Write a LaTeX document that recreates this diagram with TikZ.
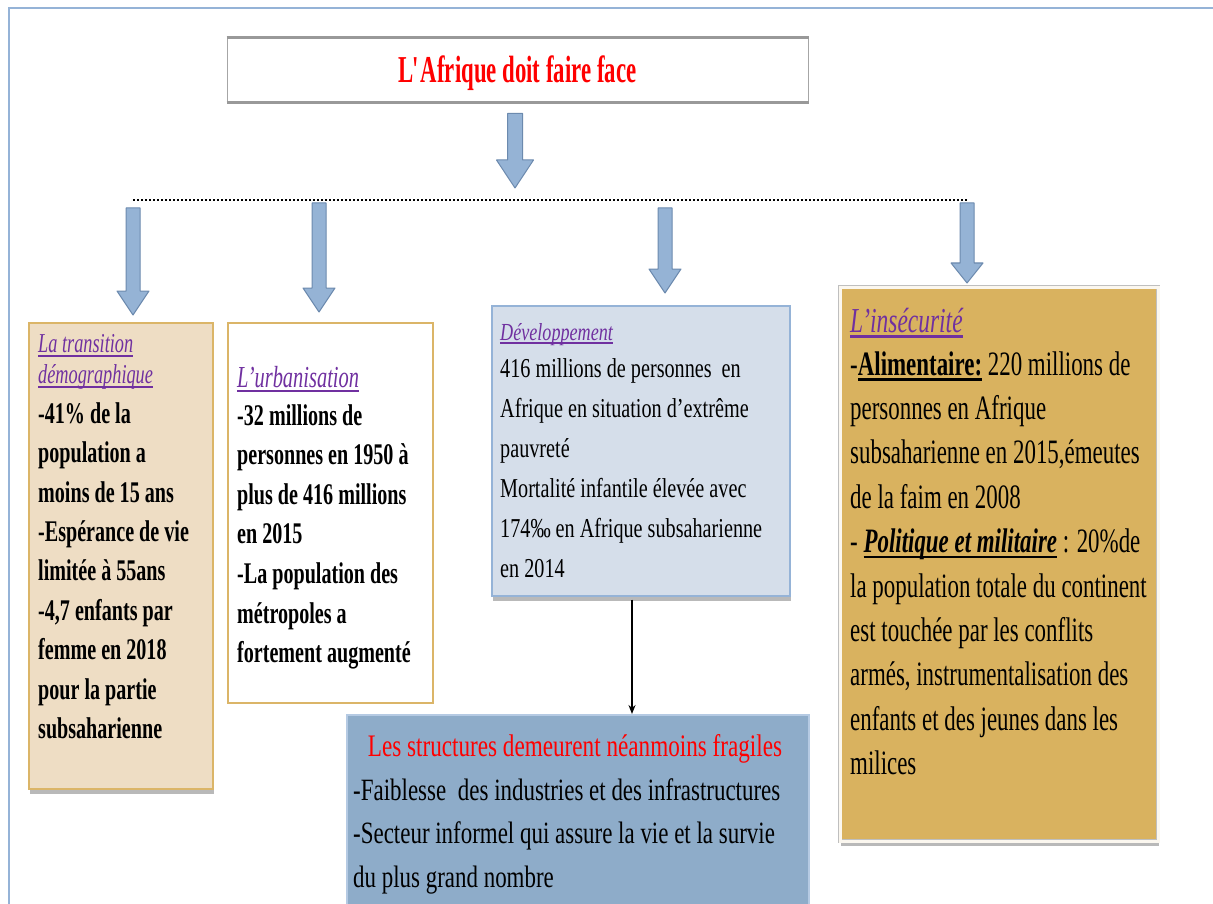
\documentclass[tikz,border=0pt]{standalone}
\usepackage{fontspec}
\setmainfont{Liberation Serif}
\newfontfamily\titlefont[FakeStretch=0.60]{Liberation Serif}
\newfontfamily\narrowfont[FakeStretch=0.67]{Liberation Serif}
\newfontfamily\midfont[FakeStretch=0.74]{Liberation Serif}
\usetikzlibrary{positioning, calc, shadows, arrows.meta}

% thick underline for the headings
\newcommand{\hul}[1]{\leavevmode\setbox0\hbox{#1}\rlap{\rule[-0.17em]{\wd0}{0.075em}}\box0}

% block arrow: from, to, shaft half width, head half width, head length
\newcommand{\blockarrow}[5]{%
  \draw[bluearrow] ($(#1)+(-#3,0)$) -- ($(#2)+(-#3,-#5)$) -- ($(#2)+(-#4,-#5)$) -- (#2)
    -- ($(#2)+(#4,-#5)$) -- ($(#2)+(#3,-#5)$) -- ($(#1)+(#3,0)$) -- cycle;}

\begin{document}
\begin{tikzpicture}[x=1pt, y=-1pt,
    bluearrow/.style={fill=arrowfill, draw=arrowline, line width=1pt, line join=round},
    box/.style={rectangle, anchor=north west, inner sep=0pt},
    txt/.style={anchor=base west, align=flush left, text width=480, inner sep=0pt},
    shade/.style={drop shadow={shadow xshift=1pt, shadow yshift=-5pt, fill=black!50, opacity=0.55}}]

        % Define colors
        \definecolor{framecol}{RGB}{149,179,215}
        \definecolor{arrowfill}{RGB}{149,179,213}
        \definecolor{arrowline}{RGB}{108,138,174}
        \definecolor{wheatcol}{RGB}{238,221,196}
        \definecolor{goldline}{RGB}{219,181,104}
        \definecolor{paleblue}{RGB}{213,222,234}
        \definecolor{ochre}{RGB}{217,178,95}
        \definecolor{steelcol}{RGB}{142,172,201}
        \definecolor{headpurple}{RGB}{112,48,160}

        \useasboundingbox (0,0) rectangle (1213,904);
        \fill[white] (0,0) rectangle (1213,904);

        % Slide frame
        \draw[framecol, line width=2pt] (1213,8) -- (9,8) -- (9,904);

        % Title box
        \node[anchor=base, draw=gray!70, line width=1pt, minimum width=581, inner ysep=0pt,
              text height=45, text depth=19, font=\titlefont\bfseries\fontsize{38}{40}\selectfont,
              text=red] (title) at (517.5,83) {L\kern-1.5pt\textquotesingle\kern-2pt Afrique doit faire face};
        \draw[line width=3pt, black!40] (title.north west) -- (title.north east);
        \draw[line width=3pt, black!40] (title.south west) -- (title.south east);

        % Dotted line and the arrow coming down to it
        \coordinate (hub) at (515,200);
        \coordinate (dl) at (133,200);
        \coordinate (dr) at (968,200);
        \draw[line width=2pt, dash pattern=on 2pt off 2pt] (dl) -- (dr);
        \blockarrow{$(title.south)+(-2.5,11)$}{$(hub)+(0,-12)$}{7.5}{18.5}{28}

        % Boxes
        \node[box, shade, fill=wheatcol, draw=goldline, line width=1.5pt,
              minimum width=184, minimum height=466] (demo) at (28,322) {};
        \node[box, fill=white, draw=goldline, line width=2pt,
              minimum width=205, minimum height=380] (urban) at (227,322) {};
        \node[box, shade, fill=paleblue, draw=framecol, line width=1.5pt,
              minimum width=298, minimum height=290] (devel) at (491,305) {};
        \node[box, shade, fill=ochre, draw=black!25, line width=0.8pt, double=white!90!ochre,
              double distance=2.5pt, minimum width=318, minimum height=554] (insec) at (840,287) {};
        \node[box, fill=steelcol, draw=framecol!70!white, line width=1.5pt,
              minimum width=462, minimum height=194] (fragile) at (346,714) {};

        % Texts of the boxes
        \node[txt, font=\narrowfont\bfseries\fontsize{30}{39.5}\selectfont] (demotext) at (38,352) {%
          {\color{headpurple}\mdseries\itshape\fontsize{27.3}{31}\selectfont\hul{La transition}\\[-8.5pt]\hul{démographique}}\\[0.5pt]
          -41\% de la\\ population a\\ moins de 15 ans\\ -Espérance de vie\\ limitée à 55ans\\
          -4,7 enfants par\\ femme en 2018\\ pour la partie\\ subsaharienne};

        \node[txt, font=\narrowfont\bfseries\fontsize{30}{39.6}\selectfont] (urbantext) at (237,387) {%
          {\color{headpurple}\mdseries\itshape\fontsize{30.5}{34}\selectfont\hul{L’urbanisation}}\\[-1.6pt]
          -32 millions de\\ personnes en 1950 à\\ plus de 416 millions\\ en 2015\\
          -La population des\\ métropoles a\\ fortement augmenté};

        \node[txt, font=\midfont\fontsize{27.3}{40}\selectfont] (develtext) at (500,340) {%
          {\color{headpurple}\itshape\fontsize{24.5}{26}\selectfont\hul{Développement}}\\[-3pt]
          416 millions de personnes\hspace{10pt}en\\ Afrique en situation d’extrême\\ pauvreté\\
          Mortalité infantile élevée avec\\ 174‰ en Afrique subsaharienne\\ en 2014};

        \node[txt, font=\narrowfont\fontsize{34.2}{44.4}\selectfont] (insectext) at (850,332) {%
          {\color{headpurple}\itshape\fontsize{35}{38}\selectfont\hul{L’insécurité}}\\[-1.4pt]
          -{\bfseries\hul{Alimentaire:}} 220 millions de\\ personnes en Afrique\\
          subsaharienne en 2015,émeutes\\ de la faim en 2008\\
          - {\bfseries\itshape\hul{Politique et militaire}}\,: 20\%de\\
          la population totale du continent\\ est touchée par les conflits\\
          armés, instrumentalisation des\\ enfants et des jeunes dans les\\ milices};

        \node[anchor=base, inner sep=0pt, text=red, font=\midfont\fontsize{31.3}{40}\selectfont]
              (fraghead) at (575,756) {Les structures demeurent néanmoins fragiles};
        \node[txt, font=\midfont\fontsize{31}{43.6}\selectfont] (fragtext) at (353,800) {%
          -Faiblesse\hspace{6pt} des industries et des infrastructures\\
          -Secteur informel qui assure la vie et la survie\\ du plus grand nombre};

        % Arrows from the dotted line to the boxes
        \coordinate (a1) at (133,208);
        \coordinate (a2) at (319,203);
        \coordinate (a3) at (665,208);
        \coordinate (a4) at (967,203);
        \blockarrow{a1}{$(a1 |- demo.north)+(0,-7)$}{7}{16}{24}
        \blockarrow{a2}{$(a2 |- urban.north)+(0,-10)$}{7}{16}{24}
        \blockarrow{a3}{$(a3 |- devel.north)+(0,-12)$}{7}{16}{24}
        \blockarrow{a4}{$(a4 |- insec.north)+(0,-4)$}{7}{16}{20}

        % Thin arrow from development to the bottom box
        \coordinate (lx) at (632,0);
        \draw[line width=1.5pt, -{Stealth[length=9pt, width=7pt]}] ($(devel.south -| lx)+(0,3)$) -- (fragile.north -| lx);

    \end{tikzpicture}
\end{document}
